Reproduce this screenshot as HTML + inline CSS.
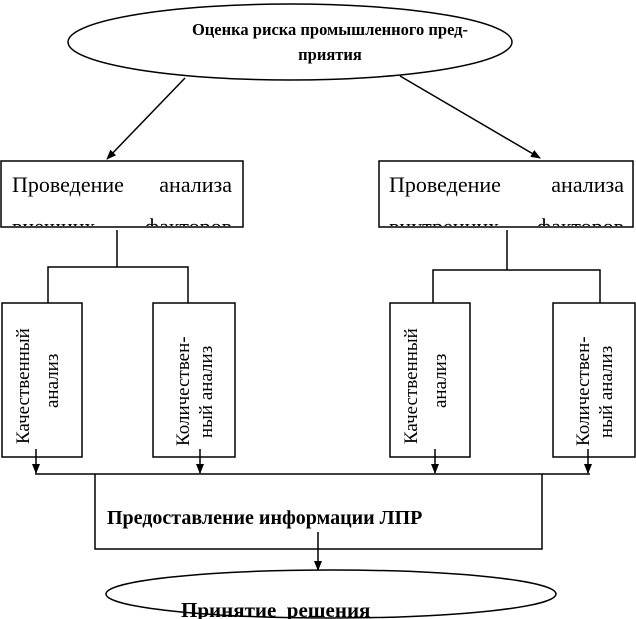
<!DOCTYPE html>
<html><head><meta charset="utf-8"><style>
html,body{margin:0;padding:0;background:#fff;}
svg{display:block;}
text{font-family:"Liberation Serif",serif;fill:#000;}
</style></head><body>
<svg width="636" height="619" viewBox="0 0 636 619" xmlns="http://www.w3.org/2000/svg">
<defs>
<marker id="a" markerWidth="10" markerHeight="10" refX="9" refY="5" orient="auto" markerUnits="userSpaceOnUse">
<path d="M0,1 L10,5 L0,9 z" fill="#000"/></marker>
<clipPath id="c1"><rect x="0" y="160" width="244" height="66"/></clipPath>
<clipPath id="c2"><rect x="379" y="160" width="256" height="66"/></clipPath>
<clipPath id="c3"><rect x="0" y="560" width="636" height="59"/></clipPath>
</defs>
<g stroke="#000" stroke-width="1.5" fill="none">
<ellipse cx="290" cy="42" rx="222" ry="38" fill="#fff"/>
<line x1="185" y1="78" x2="107" y2="159" marker-end="url(#a)"/>
<line x1="400" y1="76" x2="540" y2="158" marker-end="url(#a)"/>
<rect x="1" y="161" width="242" height="66"/>
<rect x="379" y="161" width="254" height="66"/>
<line x1="117" y1="230" x2="117" y2="267"/>
<polyline points="48,303 48,267 188,267 188,303"/>
<line x1="507" y1="230" x2="507" y2="270"/>
<polyline points="433,303 433,270 600,270 600,303"/>
<rect x="2" y="303" width="80" height="154"/>
<rect x="153" y="303" width="82" height="154"/>
<rect x="390" y="303" width="80" height="154"/>
<rect x="553" y="303" width="82" height="154"/>
<line x1="36" y1="449" x2="36" y2="473" marker-end="url(#a)"/>
<line x1="200" y1="449" x2="200" y2="473" marker-end="url(#a)"/>
<line x1="435" y1="449" x2="435" y2="473" marker-end="url(#a)"/>
<line x1="588" y1="449" x2="588" y2="473" marker-end="url(#a)"/>
<line x1="35" y1="474" x2="590" y2="474"/>
<polyline points="95,474 95,549 542,549 542,474"/>
<line x1="318" y1="532" x2="318" y2="570" marker-end="url(#a)"/>
<ellipse cx="331" cy="594" rx="225" ry="24" fill="#fff"/>
</g>
<text x="330" y="35" font-size="16.5" font-weight="bold" text-anchor="middle">Оценка риска промышленного пред-</text>
<text x="330" y="60" font-size="16.5" font-weight="bold" text-anchor="middle">приятия</text>
<g font-size="22">
<text x="12" y="192">Проведение</text>
<text x="232" y="192" text-anchor="end">анализа</text>
<g clip-path="url(#c1)"><text x="12" y="234">внешних</text><text x="232" y="234" text-anchor="end">факторов</text></g>
<text x="389" y="192">Проведение</text>
<text x="624" y="192" text-anchor="end">анализа</text>
<g clip-path="url(#c2)"><text x="389" y="234">внутренних</text><text x="624" y="234" text-anchor="end">факторов</text></g>
</g>
<g font-size="19">
<text transform="translate(29,444) rotate(-90)">Качественный</text>
<text transform="translate(58,408) rotate(-90)">анализ</text>
<text transform="translate(189,446) rotate(-90)">Количествен-</text>
<text transform="translate(212,438) rotate(-90)">ный анализ</text>
<text transform="translate(417,444) rotate(-90)">Качественный</text>
<text transform="translate(446,408) rotate(-90)">анализ</text>
<text transform="translate(589,446) rotate(-90)">Количествен-</text>
<text transform="translate(612,438) rotate(-90)">ный анализ</text>
</g>
<text x="107" y="524" font-size="20" font-weight="bold">Предоставление информации ЛПР</text>
<g clip-path="url(#c3)"><text x="181" y="617" font-size="21" font-weight="bold">Принятие&#160; решения</text></g>
</svg>
</body></html>
